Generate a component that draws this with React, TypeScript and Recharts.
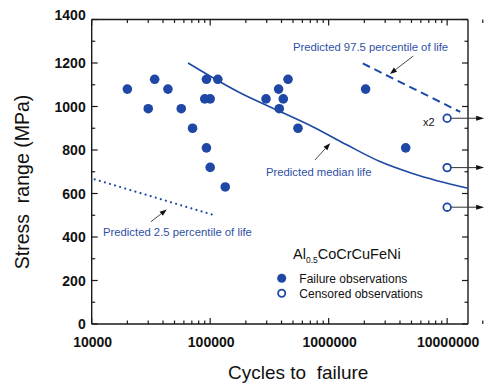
import { ComposedChart, ReferenceLine, Scatter, XAxis, YAxis } from "recharts";

const BLUE = "#1f47a6";
const TEXT_BLUE = "#2f4fa6";
const FONT = "'Liberation Sans', Arial, sans-serif";

// failure observations (cycles, MPa)
const failureCycles = [
  20000, 30000, 34000, 44000, 57000, 71000, 93000, 90000, 100000, 93000, 100000,
  116000, 134000, 296000, 378000, 454000, 414000, 383000, 551000, 2050000, 4470000,
];
const failureStress = [
  1080, 990, 1125, 1080, 990, 900, 1125, 1035, 1035, 810, 720,
  1125, 630, 1035, 1080, 1125, 1035, 990, 900, 1080, 810,
];

// run-outs
const censoredCycles = [10000000, 10000000, 10000000];
const censoredStress = [946, 719, 537];

// fitted curves
const medianCycles = [65000, 180000, 390000, 740000, 1420000, 2710000, 5180000, 15000000];
const medianStress = [1200, 1062, 977, 906, 824, 747, 691, 624];
const upperCycles = [1940000, 12900000];
const upperStress = [1198, 975];
const lowerCycles = [10600, 113000];
const lowerStress = [665, 497];

const xDecades = [10000, 100000, 1000000, 10000000];
const xMultipliers = [1, 2, 3, 4, 5, 6, 7, 8, 9];
const xTicks = xDecades.flatMap((d) => xMultipliers.map((m) => d * m));
const yTicks = [0, 100, 200, 300, 400, 500, 600, 700, 800, 900, 1000, 1100, 1200, 1300, 1400];
const yLabelled = [0, 200, 400, 600, 800, 1000, 1200, 1400];

// annotation arrows [fromX, fromY, toX, toY]
const arrows = [
  [5180000, 1232, 3290000, 1150],
  [766000, 754, 1030000, 831],
  [31600, 470, 43000, 527],
];

const zip = (xs: number[], ys: number[]) => xs.map((x, i) => ({ x, y: ys[i] }));

const failureData = zip(failureCycles, failureStress);
const censoredData = zip(censoredCycles, censoredStress);
const medianData = zip(medianCycles, medianStress);
const upperData = zip(upperCycles, upperStress);
const lowerData = zip(lowerCycles, lowerStress);

const PLOT_H = 304.5;
const PLOT_W = 376.3;
const AXIS = "#1a1a1a";

function XTick({ x, y, payload }: any) {
  const v = payload.value as number;
  const major = xDecades.includes(v);
  const len = major ? 6 : 3.5;
  return (
    <g>
      <line x1={x} x2={x} y1={y} y2={y - len} stroke={AXIS} strokeWidth={1.2} />
      <line x1={x} x2={x} y1={y - PLOT_H} y2={y - PLOT_H + len} stroke={AXIS} strokeWidth={1.2} />
      {major && (
        <text x={x + 1} y={y + 23} textAnchor="middle" fontFamily={FONT} fontWeight="bold" fontSize={14} fill="#111">
          {v}
        </text>
      )}
    </g>
  );
}

function YTick({ x, y, payload }: any) {
  const v = payload.value as number;
  const major = yLabelled.includes(v);
  const len = major ? 6 : 3.5;
  const lift = v === 1400 ? 5 : 0;
  return (
    <g>
      <line x1={x} x2={x + len} y1={y} y2={y} stroke={AXIS} strokeWidth={1.2} />
      <line x1={x + PLOT_W} x2={x + PLOT_W - len} y1={y} y2={y} stroke={AXIS} strokeWidth={1.2} />
      {major && (
        <text x={x - 6} y={y + 5 - lift} textAnchor="end" fontFamily={FONT} fontWeight="bold" fontSize={14} fill="#111">
          {v}
        </text>
      )}
    </g>
  );
}

function FilledDot({ cx, cy }: any) {
  return <circle cx={cx} cy={cy} r={4.8} fill={BLUE} />;
}

function CensoredDot({ cx, cy }: any) {
  const end = cx + 37;
  return (
    <g>
      <line x1={cx + 4} x2={end - 6} y1={cy} y2={cy} stroke="#333" strokeWidth={1} />
      <polygon points={`${end},${cy} ${end - 8},${cy - 2.5} ${end - 8},${cy + 2.5}`} fill="#111" />
      <circle cx={cx} cy={cy} r={3.8} fill="#fff" stroke={BLUE} strokeWidth={1.8} />
    </g>
  );
}

function ArrowShape({ x1, y1, x2, y2 }: any) {
  const a = Math.atan2(y2 - y1, x2 - x1);
  const L = 7;
  const W = 2.6;
  const bx = x2 - L * Math.cos(a);
  const by = y2 - L * Math.sin(a);
  const px = -Math.sin(a) * W;
  const py = Math.cos(a) * W;
  return (
    <g>
      <line x1={x1} y1={y1} x2={bx} y2={by} stroke="#333" strokeWidth={0.9} />
      <polygon points={`${x2},${y2} ${bx + px},${by + py} ${bx - px},${by - py}`} fill="#111" />
    </g>
  );
}

const none = () => <g />;

export default function App() {
  return (
    <div style={{ position: "absolute", left: 0, top: 0, width: 493, height: 387, background: "#fff" }}>
      <ComposedChart width={493} height={387} margin={{ top: 19.5, right: 25, bottom: 33, left: 31.7 }}>
        <XAxis
          type="number"
          dataKey="x"
          scale="log"
          domain={[10000, 15000000]}
          ticks={xTicks}
          interval={0}
          tick={<XTick />}
          tickLine={false}
          tickSize={0}
          tickMargin={0}
          height={30}
          axisLine={{ stroke: AXIS, strokeWidth: 1.4 }}
        />
        <YAxis
          type="number"
          dataKey="y"
          domain={[0, 1400]}
          ticks={yTicks}
          interval={0}
          tick={<YTick />}
          tickLine={false}
          tickSize={0}
          tickMargin={0}
          width={60}
          axisLine={{ stroke: AXIS, strokeWidth: 1.4 }}
        />
        <ReferenceLine y={1400} stroke={AXIS} strokeWidth={1.4} />
        <ReferenceLine x={15000000} stroke={AXIS} strokeWidth={1.4} />
        <Scatter
          data={lowerData}
          shape={none}
          line={{ stroke: BLUE, strokeWidth: 2.2, strokeDasharray: "0.01 5.3", strokeLinecap: "round" }}
          isAnimationActive={false}
        />
        <Scatter
          data={upperData}
          shape={none}
          line={{ stroke: BLUE, strokeWidth: 2, strokeDasharray: "8 5" }}
          isAnimationActive={false}
        />
        <Scatter
          data={medianData}
          shape={none}
          line={{ stroke: BLUE, strokeWidth: 1.6 }}
          lineJointType="monotoneX"
          isAnimationActive={false}
        />
        <Scatter data={failureData} shape={<FilledDot />} isAnimationActive={false} />
        <Scatter data={censoredData} shape={<CensoredDot />} isAnimationActive={false} />
        {arrows.map(([fx, fy, tx, ty], i) => (
          <ReferenceLine
            key={i}
            segment={[
              { x: fx, y: fy },
              { x: tx, y: ty },
            ]}
            shape={<ArrowShape />}
          />
        ))}
      </ComposedChart>
      <svg
        width={493}
        height={387}
        style={{ position: "absolute", left: 0, top: 0, pointerEvents: "none", overflow: "visible" }}
        fontFamily={FONT}
      >
        <text
          transform="translate(29,182) rotate(-90)"
          textAnchor="middle"
          fontSize={19.5}
          fill="#111"
          style={{ whiteSpace: "pre" }}
        >
          {"Stress  range (MPa)"}
        </text>
        <text x={228} y={379} fontSize={19} fill="#111" style={{ whiteSpace: "pre" }}>
          {"Cycles to  failure"}
        </text>
        <text x={293} y={50.5} fontSize={11.3} fill={TEXT_BLUE}>
          Predicted 97.5 percentile of life
        </text>
        <text x={266} y={175.5} fontSize={11.3} fill={TEXT_BLUE}>
          Predicted median life
        </text>
        <text x={103} y={235.5} fontSize={11.3} fill={TEXT_BLUE}>
          Predicted 2.5 percentile of life
        </text>
        <text x={423} y={125.5} fontSize={11} fill="#111">
          x2
        </text>
        <text x={293} y={259} fontSize={14.5} fill="#111">
          Al
          <tspan fontSize={8.5} dy={4}>0.5</tspan>
          <tspan dy={-4}>CoCrCuFeNi</tspan>
        </text>
        <circle cx={281.7} cy={278.3} r={4.5} fill={BLUE} />
        <text x={299.3} y={282.5} fontSize={12} fill="#111">
          Failure observations
        </text>
        <circle cx={281.7} cy={293.3} r={3.6} fill="#fff" stroke={BLUE} strokeWidth={1.8} />
        <text x={299.3} y={297.5} fontSize={12} fill="#111">
          Censored observations
        </text>
      </svg>
    </div>
  );
}
